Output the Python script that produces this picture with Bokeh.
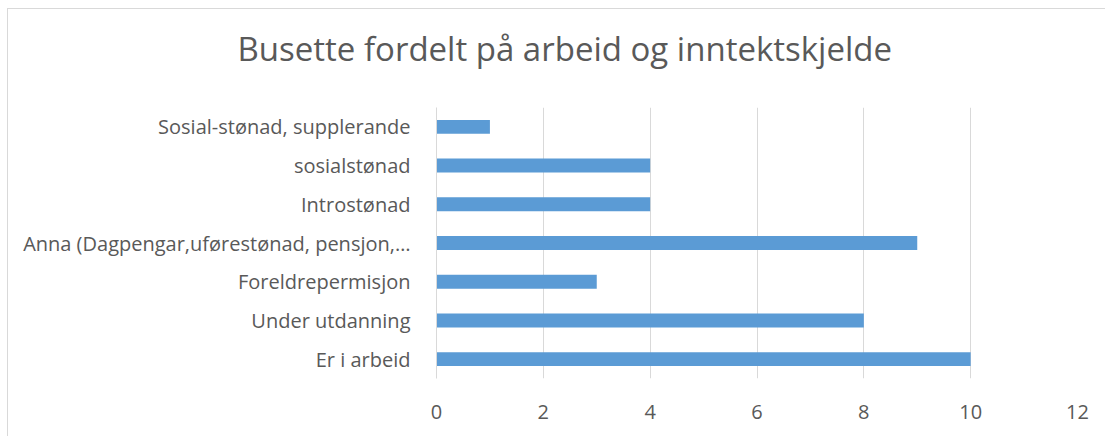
from bokeh.plotting import figure
from bokeh.models import FixedTicker, Range1d, FactorRange, Title
from bokeh.embed import file_html
from bokeh.resources import INLINE

categories = [
    "Er i arbeid",
    "Under utdanning",
    "Foreldrepermisjon",
    "Anna (Dagpengar,uførestønad, pensjon,…",
    "Introstønad",
    "sosialstønad",
    "Sosial-stønad, supplerande",
]
values = [10, 8, 3, 9, 4, 4, 1]
x_ticks = [0, 2, 4, 6, 8, 10, 12]

FONT = "Open Sans"
TXT = "#595959"

p = figure(
    width=1098, height=428,
    y_range=FactorRange(*categories, range_padding=0),
    x_range=Range1d(0, 12),
    output_backend="svg", toolbar_location=None,
    min_border_left=428, min_border_right=29,
    min_border_top=98, min_border_bottom=59,
)
p.styles = {
    "margin-left": "7px",
    "margin-top": "8px",
    "border-top": "1px solid #d9d9d9",
    "border-left": "1px solid #d9d9d9",
}

# spacer between frame and title
p.add_layout(Title(text=" ", text_font_size="1px", standoff=27), "above")

p.title.text = "Busette fordelt på arbeid og inntektskjelde"
p.title.text_font = FONT
p.title.text_font_size = "33px"
p.title.text_font_style = "normal"
p.title.text_color = TXT
p.title.align = "left"
p.title.offset = -199
p.title.standoff = 14

p.hbar(y=categories, right=values, height=0.36, left=0,
       fill_color="#5b9bd5", line_color=None)

p.outline_line_color = None
p.ygrid.grid_line_color = None
p.xgrid.grid_line_color = "#d9d9d9"
p.xgrid.grid_line_width = 1
p.xaxis.ticker = FixedTicker(ticks=x_ticks)
p.xaxis.axis_line_color = None
p.xaxis.major_tick_line_color = None
p.xaxis.minor_tick_line_color = None
p.xaxis.major_label_standoff = 20
p.xaxis.major_label_text_font = FONT
p.xaxis.major_label_text_font_size = "20px"
p.xaxis.major_label_text_color = TXT

p.yaxis.axis_line_color = "#d9d9d9"
p.yaxis.major_tick_line_color = None
p.yaxis.minor_tick_line_color = None
p.yaxis.major_label_standoff = 20
p.yaxis.major_label_text_font = FONT
p.yaxis.major_label_text_font_size = "20px"
p.yaxis.major_label_text_color = TXT

open("out.html", "w").write(file_html(p, INLINE))
